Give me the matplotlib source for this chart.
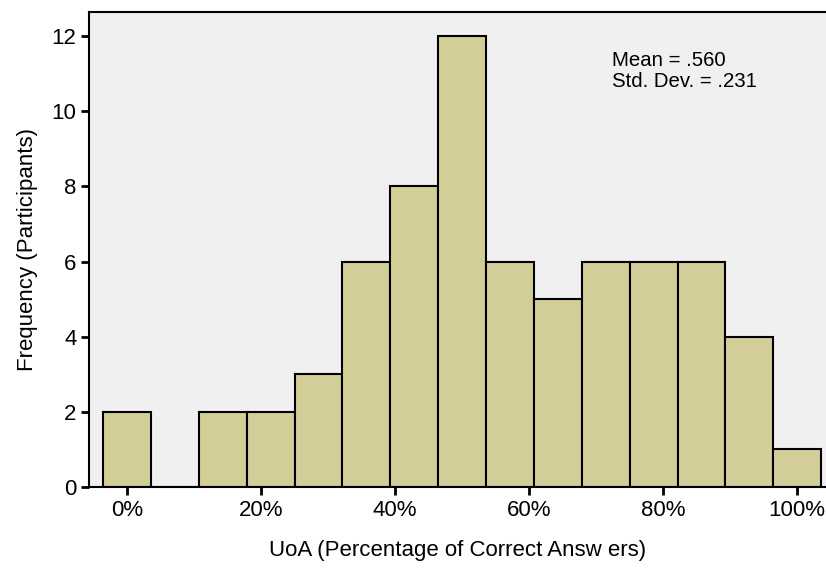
import matplotlib
matplotlib.use("Agg")
import matplotlib.pyplot as plt
import numpy as np

plt.rcParams['font.family'] = ['Liberation Sans', 'DejaVu Sans']

bin_centers = [k / 14 for k in range(15)]
counts = [2, 0, 2, 2, 3, 6, 8, 12, 6, 5, 6, 6, 6, 4, 1]
x_ticks = [0, 0.2, 0.4, 0.6, 0.8, 1.0]
x_ticklabels = ['0%', '20%', '40%', '60%', '80%', '100%']
y_ticks = [0, 2, 4, 6, 8, 10, 12]
mean_text = "Mean = .560\nStd. Dev. = .231"

fig = plt.figure(figsize=(8.26, 5.68), dpi=100)
ax = fig.add_axes([89/826, (568-487)/568, (826-89)/826, (487-12)/568])
ax.set_facecolor('#f0f0f0')

ax.bar(bin_centers, counts, width=1/14, color='#d3ce97', edgecolor='black', linewidth=1.5, zorder=2)

ax.set_xlim(-0.0567, 1.043)
ax.set_ylim(0, 12.64)
ax.set_xticks(x_ticks)
ax.set_xticklabels(x_ticklabels)
ax.set_yticks(y_ticks)
ax.tick_params(axis='both', direction='out', length=6, width=2, labelsize=16, pad=3)

for s in ['left', 'bottom', 'top']:
    ax.spines[s].set_linewidth(1.5)
ax.spines['right'].set_visible(False)

ax.set_xlabel('UoA (Percentage of Correct Answ ers)', fontsize=16, labelpad=14)
ax.set_ylabel('Frequency (Participants)', fontsize=16, labelpad=10)

ax.text(0.724, 11.6, mean_text, fontsize=14.7, va='top', ha='left', linespacing=1.15)

fig.savefig('out.png', dpi=100)
